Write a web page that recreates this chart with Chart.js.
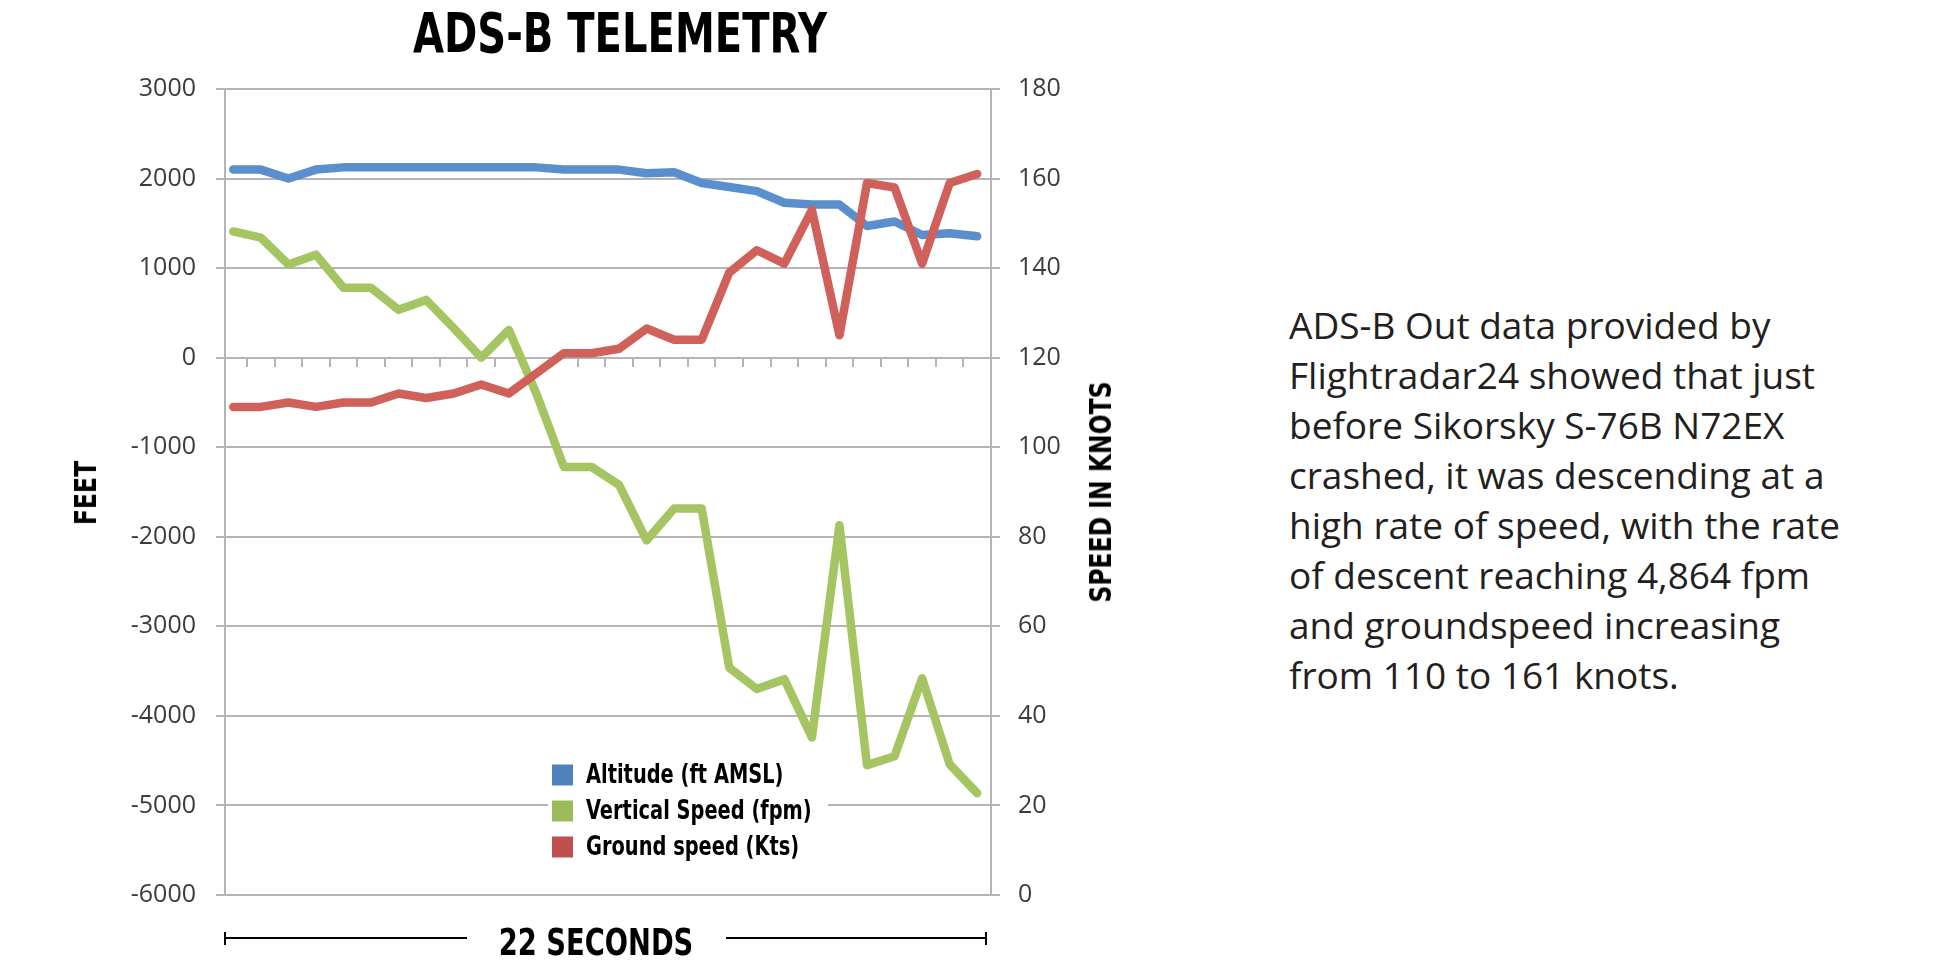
<!DOCTYPE html>
<html>
<head>
<meta charset="utf-8">
<title>ADS-B Telemetry</title>
<script src="https://cdn.jsdelivr.net/npm/chart.js@4.4.1/dist/chart.umd.min.js"></script>
<style>
	html, body { margin: 0; padding: 0; background: #fff; }
	body { width: 1939px; height: 970px; position: relative; overflow: hidden; }
	#chartbox { position: absolute; left: 0; top: 0; width: 1100px; height: 970px; }
	.cond { position: absolute; font-family: "Liberation Sans Narrow", "DejaVu Sans Condensed", sans-serif; font-weight: bold; color: #000; white-space: nowrap; }
	#title { left: 320px; width: 600px; top: 6px; text-align: center; font-size: 55px; line-height: 55px; transform: scaleX(0.81); }
	.ytitle { font-size: 30px; line-height: 30px; transform: translate(-50%, -50%) rotate(-90deg) scaleX(0.87); }
	#feet { left: 86px; top: 493px; }
	#knots { left: 1101px; top: 492px; }
	#seconds { left: 396px; width: 400px; top: 923px; text-align: center; font-size: 38px; line-height: 38px; transform: scaleX(0.8); }
	.rule { position: absolute; background: #000; }
	#note { position: absolute; left: 1289px; top: 300px; font-family: "Open Sans", sans-serif; font-size: 37px; line-height: 50px; color: #231f20; white-space: nowrap; }
</style>
</head>
<body>
<div id="chartbox"><canvas id="telemetry"></canvas></div>
<div id="title" class="cond">ADS-B TELEMETRY</div>
<div id="feet" class="cond ytitle">FEET</div>
<div id="knots" class="cond ytitle">SPEED IN KNOTS</div>
<div class="rule" style="left:225px;top:937px;width:242px;height:2px"></div>
<div class="rule" style="left:726px;top:937px;width:260px;height:2px"></div>
<div class="rule" style="left:224px;top:932px;width:2px;height:13px"></div>
<div class="rule" style="left:985px;top:932px;width:2px;height:13px"></div>
<div id="seconds" class="cond">22 SECONDS</div>
<div id="note">ADS-B Out data provided by<br>Flightradar24 showed that just<br>before Sikorsky S-76B N72EX<br>crashed, it was descending at a<br>high rate of speed, with the rate<br>of descent reaching 4,864 fpm<br>and groundspeed increasing<br>from 110 to 161 knots.</div>
<script>
// samples along the 22 second window
const sampleIndex = [0, 1, 2, 3, 4, 5, 6, 7, 8, 9, 10, 11, 12, 13, 14, 15, 16, 17, 18, 19, 20, 21, 22, 23, 24, 25, 26, 27];

// series
const altitudeFt = [2100, 2100, 2000, 2100, 2125, 2125, 2125, 2125, 2125, 2125, 2125, 2125, 2100, 2100, 2100, 2060, 2070, 1950, 1905, 1860, 1730, 1710, 1710, 1470, 1520, 1370, 1390, 1355];
const verticalSpeedFpm = [1410, 1340, 1040, 1150, 780, 780, 535, 645, 330, 0, 310, -400, -1220, -1220, -1420, -2040, -1685, -1685, -3460, -3700, -3590, -4240, -1870, -4550, -4450, -3580, -4540, -4864];
const groundSpeedKts = [109, 109, 110, 109, 110, 110, 112, 111, 112, 114, 112, 116.5, 121, 121, 122, 126.5, 124, 124, 139, 144, 141, 153, 125, 159, 158, 141, 159, 161];

const seriesLabels = ['Altitude (ft AMSL)', 'Vertical Speed (fpm)', 'Ground speed (Kts)'];

const gridGray = '#b5b5b5';
const tickFont = { family: 'Open Sans', size: 25 };

// legend sitting inside the plot, on a white patch
const insideLegend = {
	id: 'insideLegend',
	afterDatasetsDraw(chart, args, opts) {
		const ctx = chart.ctx;
		ctx.save();
		ctx.fillStyle = '#fff';
		ctx.fillRect(opts.left, opts.top, opts.width, opts.height);
		ctx.font = opts.font;
		ctx.textBaseline = 'middle';
		chart.data.datasets.forEach((dataset, i) => {
			const cy = opts.firstRow + i * opts.rowGap;
			ctx.fillStyle = dataset.legendColor;
			ctx.fillRect(opts.boxX, cy - opts.box / 2, opts.box, opts.box);
			ctx.fillStyle = '#000';
			// the face on hand is wider than the original, squeeze it
			ctx.save();
			ctx.translate(opts.textX, cy + 1);
			ctx.scale(opts.squeeze, 1);
			ctx.fillText(dataset.label, 0, 0);
			ctx.restore();
		});
		ctx.restore();
	}
};

const lineStyle = {
	borderWidth: 8.5,
	pointRadius: 0,
	pointHoverRadius: 0,
	tension: 0,
	fill: false,
	borderJoinStyle: 'round',
	borderCapStyle: 'round'
};

new Chart(document.getElementById('telemetry'), {
	type: 'line',
	data: {
		labels: sampleIndex,
		datasets: [
			Object.assign({
				label: seriesLabels[0],
				data: altitudeFt,
				yAxisID: 'y',
				borderColor: '#5a8fcd',
				legendColor: '#4f81bd',
				order: 3
			}, lineStyle),
			Object.assign({
				label: seriesLabels[1],
				data: verticalSpeedFpm,
				yAxisID: 'y',
				borderColor: '#a5c462',
				legendColor: '#9bbb59',
				order: 2
			}, lineStyle),
			Object.assign({
				label: seriesLabels[2],
				data: groundSpeedKts,
				yAxisID: 'y1',
				borderColor: '#d0605a',
				legendColor: '#c0504d',
				order: 1
			}, lineStyle)
		]
	},
	options: {
		responsive: true,
		maintainAspectRatio: false,
		animation: false,
		events: [],
		layout: {
			padding: { top: 89, bottom: 75, left: 0, right: 0 }
		},
		scales: {
			x: {
				type: 'linear',
				position: { y: 0 },
				min: -0.3,
				max: 27.5,
				afterBuildTicks(scale) {
					// tick marks fall between samples
					scale.ticks = sampleIndex.slice(0, -1).map((v) => ({ value: v + 0.5 }));
				},
				ticks: { display: false },
				grid: {
					drawOnChartArea: false,
					drawTicks: true,
					tickLength: 9,
					color: gridGray,
					lineWidth: 2
				},
				border: { display: false }
			},
			y: {
				position: 'left',
				min: -6000,
				max: 3000,
				ticks: {
					stepSize: 1000,
					color: '#3c3c3c',
					font: tickFont,
					padding: 20,
					callback: (value) => String(value)
				},
				grid: { color: gridGray, lineWidth: 2, tickLength: 9 },
				border: { color: gridGray, width: 2 },
				afterFit(scale) { scale.width = 225; }
			},
			y1: {
				position: 'right',
				min: 0,
				max: 180,
				ticks: {
					stepSize: 20,
					color: '#3c3c3c',
					font: tickFont,
					padding: 18,
					callback: (value) => String(value)
				},
				grid: { drawOnChartArea: false, color: gridGray, lineWidth: 2, tickLength: 9 },
				border: { color: gridGray, width: 2 },
				afterFit(scale) { scale.width = 109; }
			}
		},
		plugins: {
			legend: { display: false },
			tooltip: { enabled: false },
			title: { display: false },
			insideLegend: {
				left: 548, top: 752, width: 280, height: 116,
				boxX: 552, box: 21, textX: 586, squeeze: 0.83,
				firstRow: 775, rowGap: 36,
				font: 'bold 26px "Liberation Sans Narrow", "DejaVu Sans Condensed", sans-serif'
			}
		}
	},
	plugins: [insideLegend]
});
</script>
</body>
</html>
